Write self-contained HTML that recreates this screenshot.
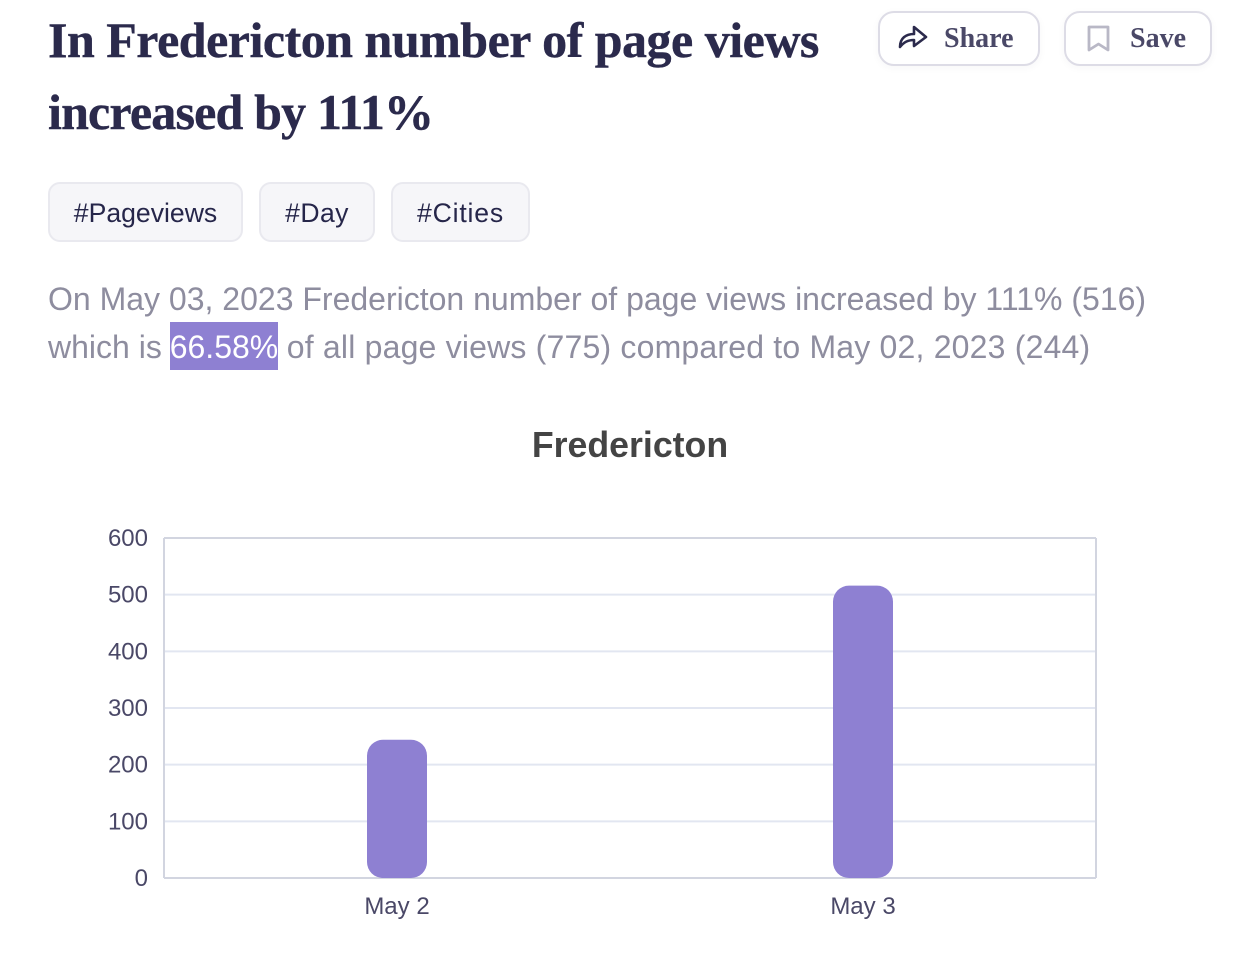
<!DOCTYPE html>
<html lang="en">
<head>
<meta charset="utf-8">
<title>In Fredericton number of page views increased by 111%</title>
<style>
html,body{margin:0;padding:0;background:#fff;}
body{width:1242px;height:962px;position:relative;overflow:hidden;font-family:"Liberation Sans",sans-serif;}
.abs{position:absolute;white-space:nowrap;}
.title{left:48px;font-family:"Liberation Serif",serif;font-weight:700;font-size:50px;line-height:72px;color:#2b2a4c;-webkit-text-stroke:0.4px #2b2a4c;}
.btn{position:absolute;top:11px;height:55px;box-sizing:border-box;border:2px solid #dddce6;border-radius:16px;background:#fff;box-shadow:0 2px 8px rgba(40,40,80,.04);font-family:"Liberation Serif",serif;font-weight:700;font-size:28px;color:#4a4867;}
.btn span{position:absolute;top:8px;line-height:36px;}
.btn svg{position:absolute;}
.tag{position:absolute;top:182px;height:60px;box-sizing:border-box;border:2px solid #e9e9ef;border-radius:12px;background:#f6f6f9;font-size:26.6px;line-height:59px;color:#26264a;text-align:center;}
.para{left:48px;font-size:32px;line-height:48px;color:#8e8d9f;}
.hl{background:#8e80d2;color:#fff;display:inline-block;width:108px;margin-left:-1px;text-align:center;line-height:48px;height:47px;box-shadow:0 -1px 0 #8e80d2;}
</style>
</head>
<body>
<div class="abs title" style="top:4px;letter-spacing:-0.5px">In Fredericton number of page views</div>
<div class="abs title" style="top:76px;letter-spacing:-0.82px">increased by 111%</div>

<div class="btn" style="left:878px;width:162px">
<svg style="left:17px;top:11px" width="32" height="26" viewBox="0 0 32 26"><path d="M3 23 C3 14 9 10 17 10 V3 L29 13 L17 22 V16 C11 16 7 18 3 23 Z" fill="none" stroke="#2b2a4c" stroke-width="2.6" stroke-linejoin="round" stroke-linecap="round"/></svg>
<span style="left:64px">Share</span>
</div>
<div class="btn" style="left:1064px;width:148px">
<svg style="left:20px;top:11px" width="26" height="28" viewBox="0 0 26 28"><path d="M3 3 H22 V26 L12.5 20 L3 26 Z" fill="none" stroke="#b9b8c6" stroke-width="2.8" stroke-linejoin="round"/></svg>
<span style="left:64px">Save</span>
</div>

<div class="tag" style="left:48px;width:195px">#Pageviews</div>
<div class="tag" style="left:259px;width:116px;letter-spacing:0.4px">#Day</div>
<div class="tag" style="left:391px;width:139px;letter-spacing:0.8px">#Cities</div>

<div class="abs para" style="top:275px">On May 03, 2023 Fredericton number of page views increased by 111% (516)</div>
<div class="abs para" style="top:323px">which is <span class="hl">66.58%</span><span style="letter-spacing:0.19px"> of all page views (775) compared to May 02, 2023 (244)</span></div>

<svg id="chart" class="abs" style="left:0;top:0" width="1242" height="962"></svg>

<script>
var categories = ['May 2', 'May 3'];
var seriesValues = [244, 516];
var yTickValues = [0, 100, 200, 300, 400, 500, 600];
var chartTitle = 'Fredericton';

var NS = 'http://www.w3.org/2000/svg';
var svg = document.getElementById('chart');
var plot = { left: 164, right: 1096, top: 538, bottom: 878 };
var yMax = 600;
var barWidth = 60;
var barRadius = 16;

function yScale(v) {
  return plot.bottom - (v / yMax) * (plot.bottom - plot.top);
}
function xBand(i) {
  var band = (plot.right - plot.left) / categories.length;
  return plot.left + band * (i + 0.5);
}
function make(tag, attrs, text) {
  var el = document.createElementNS(NS, tag);
  for (var k in attrs) el.setAttribute(k, attrs[k]);
  if (text !== undefined) el.textContent = text;
  svg.appendChild(el);
  return el;
}

var titleEl = make('text', { x: 630, y: 457, 'text-anchor': 'middle', 'font-size': 35.7, 'font-weight': 700, fill: '#444444', 'font-family': '"Liberation Sans", sans-serif' }, chartTitle);



yTickValues.forEach(function (v) {
  var y = yScale(v);
  var edge = v === 0 || v === yMax;
  var grid = make('line', { x1: plot.left, x2: plot.right, y1: y, y2: y, stroke: edge ? '#d2d5e0' : '#e2e6f1', 'stroke-width': 2 });
  
  
  var label = make('text', { x: 148, y: y + 8, 'text-anchor': 'end', 'font-size': 24, fill: '#4a4867', 'font-family': '"Liberation Sans", sans-serif' }, String(v));
  
  
});

[plot.left, plot.right].forEach(function (x, i) {
  var side = make('line', { x1: x, x2: x, y1: plot.top, y2: plot.bottom, stroke: '#d2d5e0', 'stroke-width': 2 });
  
  
});

categories.forEach(function (c, i) {
  var cx = xBand(i);
  var top = yScale(seriesValues[i]);
  var h = plot.bottom - top;
  var r = Math.min(barRadius, h / 2);
  var bar = make('rect', { x: cx - barWidth / 2, y: top, width: barWidth, height: h, rx: r, ry: r, fill: '#8e80d2' });
  
  
  var label = make('text', { x: cx, y: 914, 'text-anchor': 'middle', 'font-size': 24, fill: '#4a4867', 'font-family': '"Liberation Sans", sans-serif' }, c);
  
  
});
</script>
</body>
</html>
